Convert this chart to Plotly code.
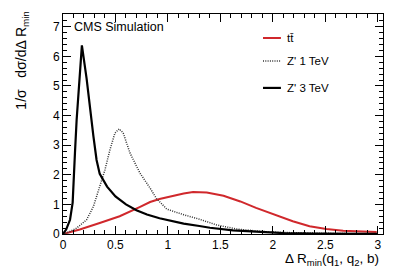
import plotly.graph_objects as go

# ---- data ----
x_z3 = [0, 0.03, 0.067, 0.092, 0.114, 0.13, 0.18, 0.225, 0.29, 0.32, 0.35, 0.42, 0.5, 0.6, 0.7,
        0.8, 0.92, 1.0, 1.15, 1.3, 1.4, 1.62, 1.88, 2.1, 2.4, 2.7, 3.0]
y_z3 = [0, 0.15, 0.48, 1.06, 2.74, 3.86, 6.37, 5.25, 3.3, 2.5, 2.03, 1.6, 1.27, 1.0, 0.8,
        0.66, 0.53, 0.46, 0.35, 0.27, 0.21, 0.12, 0.06, 0.03, 0.015, 0.01, 0.005]

x_z1 = [0, 0.035, 0.13, 0.225, 0.29, 0.352, 0.4, 0.448, 0.495, 0.536, 0.574, 0.638, 0.733, 0.83,
        0.89, 0.99, 1.15, 1.3, 1.46, 1.65, 1.88, 2.1, 2.4, 2.7, 3.0]
y_z1 = [0, 0.03, 0.2, 0.48, 0.93, 1.61, 2.17, 2.85, 3.41, 3.55, 3.41, 2.74, 2.06, 1.55,
        1.2, 0.84, 0.65, 0.5, 0.31, 0.17, 0.09, 0.05, 0.025, 0.012, 0.005]

x_tt = [0, 0.16, 0.35, 0.54, 0.73, 0.83, 0.92, 1.0, 1.15, 1.24, 1.37, 1.53, 1.69, 1.84, 1.955,
        2.035, 2.19, 2.35, 2.51, 2.67, 2.83, 2.99]
y_tt = [0, 0.15, 0.37, 0.6, 0.91, 1.08, 1.18, 1.25, 1.37, 1.42, 1.4, 1.29, 1.1, 0.88, 0.73,
        0.63, 0.43, 0.26, 0.17, 0.11, 0.08, 0.07]

series_names = ["tt\u0304", "Z' 1 TeV", "Z' 3 TeV"]
RED = "#d0282c"
FONT = "Liberation Sans, Arial, Helvetica, sans-serif"
DOT = dict(color="#333333", width=1.5, dash="1px,1.3px")

fig = go.Figure()
fig.add_trace(go.Scatter(x=x_tt, y=y_tt, mode="lines", line=dict(color=RED, width=2),
                         name=series_names[0], showlegend=False))
fig.add_trace(go.Scatter(x=x_z1, y=y_z1, mode="lines", line=DOT,
                         name=series_names[1], showlegend=False))
fig.add_trace(go.Scatter(x=x_z3, y=y_z3, mode="lines", line=dict(color="black", width=2.2),
                         name=series_names[2], showlegend=False))

axis_common = dict(showline=True, linecolor="black", linewidth=1, mirror="ticks",
                   ticks="inside", ticklen=8, tickcolor="black", showgrid=False, zeroline=False,
                   tickfont=dict(size=12, color="black", family=FONT))
fig.update_xaxes(range=[0, 3.05], dtick=0.5, tick0=0,
                 minor=dict(dtick=0.1, ticks="inside", ticklen=4, tickcolor="black"),
                 ticklabelstandoff=0, **axis_common)
fig.update_yaxes(range=[0, 7.43], dtick=1, tick0=0,
                 minor=dict(dtick=0.2, ticks="inside", ticklen=4, tickcolor="black"),
                 **axis_common)

# legend drawn by hand (ROOT style)
leg_styles = [dict(color=RED, width=2), DOT, dict(color="black", width=2.2)]
leg_y = [0.891, 0.786, 0.664]
for name, st, yy in zip(series_names, leg_styles, leg_y):
    fig.add_shape(type="line", xref="paper", yref="paper", x0=0.625, x1=0.681, y0=yy, y1=yy, line=st)
    fig.add_annotation(xref="paper", yref="paper", x=0.694, y=yy, text=name, showarrow=False,
                       xanchor="left", yanchor="middle", font=dict(size=11.5, color="black", family=FONT))

fig.add_annotation(xref="paper", yref="paper", x=0.028, y=0.941, text="CMS Simulation", showarrow=False,
                   xanchor="left", yanchor="middle", font=dict(size=12.5, color="black", family=FONT))

fig.add_annotation(xref="paper", yref="paper", x=0.995, y=-0.118,
                   text="\u0394 R<sub>min</sub>(q<sub>1</sub>, q<sub>2</sub>, b)", showarrow=False,
                   xanchor="right", yanchor="middle", font=dict(size=13.5, color="black", family=FONT))
fig.add_annotation(xref="paper", yref="paper", x=-0.128, y=1.02,
                   text="1/\u03c3   d\u03c3/d\u0394 R<sub>min</sub>", showarrow=False, textangle=-90,
                   xanchor="center", yanchor="top", font=dict(size=14, color="black", family=FONT))

fig.update_layout(width=399, height=270, margin=dict(l=63, r=16, t=14, b=36),
                  paper_bgcolor="white", plot_bgcolor="white", showlegend=False,
                  font=dict(family=FONT, color="black"))

fig.write_html("out.html", config={"displayModeBar": False},
               post_script="document.body.style.margin='0';document.body.style.padding='0';")
